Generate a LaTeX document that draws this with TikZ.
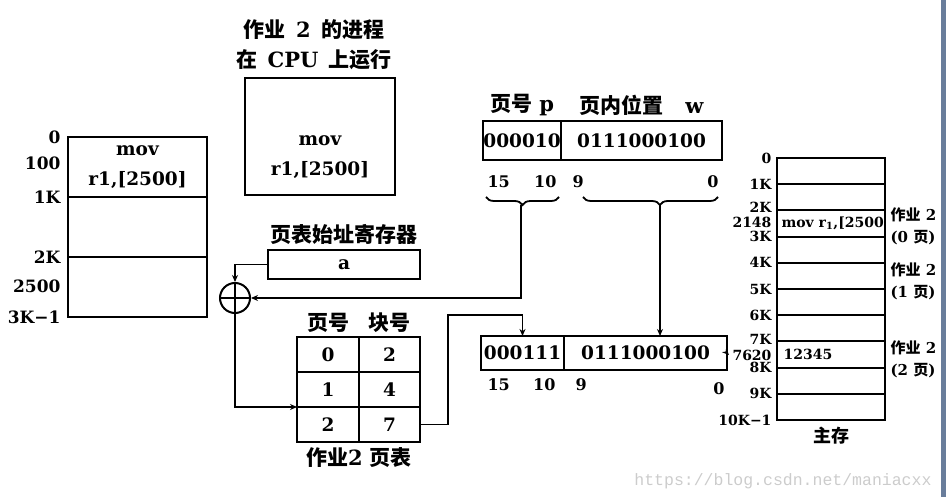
\documentclass[tikz,border=0pt]{standalone}
\usepackage{fontspec}
\setmainfont{DejaVu Serif}
\setmonofont{Liberation Mono}
\newfontfamily\cjk{Noto Sans CJK SC}
\usetikzlibrary{arrows.meta, positioning, calc, decorations.pathreplacing}
\definecolor{framebar}{RGB}{105,125,155}
\newcommand{\zh}[1]{{\cjk #1}}

\begin{document}
\begin{tikzpicture}[x=1pt, y=-1pt,
    box/.style={draw, line width=2.2pt, inner sep=0pt, outer sep=0pt},
    bignum/.style={font=\bfseries\fontsize{18.5}{30}\selectfont},
    lbl/.style={font=\bfseries\fontsize{17}{18}\selectfont},
    memtxt/.style={font=\bfseries\fontsize{14}{15}\selectfont},
    bitno/.style={font=\bfseries\fontsize{16}{17}\selectfont},
    title/.style={font=\bfseries\fontsize{21}{30}\selectfont, align=center},
    tag/.style={font=\bfseries\fontsize{15}{22}\selectfont, align=left},
    wire/.style={line width=1.8pt},
    link/.style={line width=1.8pt, -{Stealth[length=7pt, width=6pt]}}]
    \useasboundingbox (0,0) rectangle (946,497);

    % Job 2 address space
    \foreach \i in {0,1,2} {
        \node[box, minimum width=139, minimum height=60] (job\i) at (137.5,167+60*\i) {};
    }
    \node[bignum, align=center] (jobcode) at (job0) {mov\\r1,[2500]};
    \node[lbl, anchor=east] at ([xshift=-4pt]job0.north west) {0};
    \node[lbl, anchor=east] at (64,163) {100};
    \node[lbl, anchor=east] at ([xshift=-4pt]job1.north west) {1K};
    \node[lbl, anchor=east] at ([xshift=-4pt]job2.north west) {2K};
    \node[lbl, anchor=east] at (64,286) {2500};
    \node[lbl, anchor=east] at ([xshift=-4pt]job2.south west) {3K−1};

    % CPU
    \node[box, minimum width=150, minimum height=117] (cpu) at (320,136.5) {};
    \node[bignum, align=center] (cpucode) at (320,157) {mov\\r1,[2500]};
    \node[title] (cputitle) at (314,45) {\zh{作业}\hspace{3pt} 2 \hspace{3pt}\zh{的进程}\\\zh{在}\hspace{3pt} CPU \hspace{3pt}\zh{上运行}};

    % Page table base register and adder
    \node[box, minimum width=152, minimum height=29, bignum] (basereg) at (344,264.5) {a};
    \node[title, above=2pt of basereg] (basetitle) {\zh{页表始址寄存器}};
    \node[circle, draw, line width=2pt, minimum size=30, inner sep=0pt] (adder) at (235,298) {};
    \draw[line width=1.6pt] (adder.north) -- (adder.south) (adder.west) -- (adder.east);

    % Page table of job 2
    \foreach \pg/\blk in {0/2,1/4,2/7} {
        \node[box, minimum width=62, minimum height=35, bignum] (pg\pg) at (328,354.5+35*\pg) {\pg};
        \node[box, minimum width=61, minimum height=35, bignum, right=0pt of pg\pg] (blk\pg) {\blk};
    }
    \node[title, above=1pt of pg0] (pghead) {\zh{页号}};
    \node[title, above=1pt of blk0] (blkhead) {\zh{块号}};
    \node[title, below=2pt of pg2.south east] (pgcap) {\zh{作业}2 \zh{页表}};

    % Logical address register
    \node[box, minimum width=78, minimum height=39, bignum] (lp) at (522,140.5) {000010};
    \node[box, minimum width=161, minimum height=39, bignum, right=0pt of lp] (lw) {0111000100};
    \node[title, above=2pt of lp] (lptitle) {\zh{页号} p};
    \node[title, above=2pt of lw] (lwtitle) {\zh{页内位置}\hspace{22pt}w};
    \node[bitno, anchor=north west] at ([xshift=1pt, yshift=-12pt]lp.south west) {15};
    \node[bitno, anchor=north east] at ([xshift=-1pt, yshift=-12pt]lp.south east) {10};
    \node[bitno, anchor=north west] at ([xshift=8pt, yshift=-12pt]lw.south west) {9};
    \node[bitno, anchor=north east] at ([xshift=0pt, yshift=-12pt]lw.south east) {0};
    \draw[wire, decorate, decoration={brace, mirror, amplitude=8pt}] (486,197) -- (559,197);
    \draw[wire, decorate, decoration={brace, mirror, amplitude=8pt, aspect=0.57}] (583,197) -- (718,197);
    \coordinate (ptip) at (521,205);
    \coordinate (wtip) at (660,205);

    % Physical address register
    \node[box, minimum width=83, minimum height=34, bignum] (pp) at (522.5,353) {000111};
    \node[box, minimum width=163, minimum height=34, bignum, right=0pt of pp] (pw) {0111000100};
    \node[bitno, anchor=north west] at ([xshift=3pt, yshift=-5pt]pp.south west) {15};
    \node[bitno, anchor=north east] at ([xshift=-5pt, yshift=-5pt]pp.south east) {10};
    \node[bitno, anchor=north west] at ([xshift=8pt, yshift=-5pt]pw.south west) {9};
    \node[bitno, anchor=north east] at ([xshift=1pt, yshift=-9pt]pw.south east) {0};

    % Main memory
    \foreach \k in {0,...,9} {
        \node[box, line width=2pt, minimum width=108, minimum height=26.2] (mem\k) at (831,171.1+26.2*\k) {};
    }
    \foreach \k/\t in {0/0,1/1K,3/3K,4/4K,5/5K,6/6K,8/8K,9/9K} {
        \node[memtxt, anchor=east] at ([xshift=-2pt]mem\k.north west) {\t};
    }
    \node[memtxt, anchor=east] at ([xshift=-2pt, yshift=3pt]mem2.north west) {2K};
    \node[memtxt, anchor=east] at ([xshift=-2pt, yshift=2pt]mem7.north west) {7K};
    \node[memtxt, anchor=east] (m2148) at (775,222) {2148};
    \node[memtxt, anchor=east] (m7620) at (775,355) {7620};
    \node[memtxt, anchor=east] at ([xshift=-2pt]mem9.south west) {10K−1};
    \node[memtxt, anchor=west] at ([xshift=1pt]mem2.west) {mov r\textsubscript{1},[2500};
    \node[memtxt, anchor=west] at ([xshift=3pt]mem7.west) {12345};
    \node[tag, anchor=west] at (887,226) {\zh{作业} 2\\(0 \zh{页})};
    \node[tag, anchor=west] at (887,281) {\zh{作业} 2\\(1 \zh{页})};
    \node[tag, anchor=west] at (887,359) {\zh{作业} 2\\(2 \zh{页})};
    \node[title, font=\bfseries\fontsize{18}{20}\selectfont, below=3pt of mem9] (memcap) {\zh{主存}};

    % Connections
    \draw[link] (basereg.west) -| (adder.north);
    \draw[link] (ptip) |- (adder.east);
    \draw[link] (adder.south) |- (pg2.north west);
    \draw[link] (blk2.east) -- ++(28,0) |- ($(pp.north)+(0,-21)$) -- (pp.north);
    \draw[link] (wtip) -- (wtip |- pw.north);
    \draw[link] (pw.east) -- (m7620.west);

    % Watermark and frame
    \node[font=\ttfamily\fontsize{16.5}{18}\selectfont, text=gray!40, anchor=east] (mark) at (935,481) {https://blog.csdn.net/maniacxx};
    \fill[framebar] (941,0) rectangle (946,497);
\end{tikzpicture}
\end{document}
